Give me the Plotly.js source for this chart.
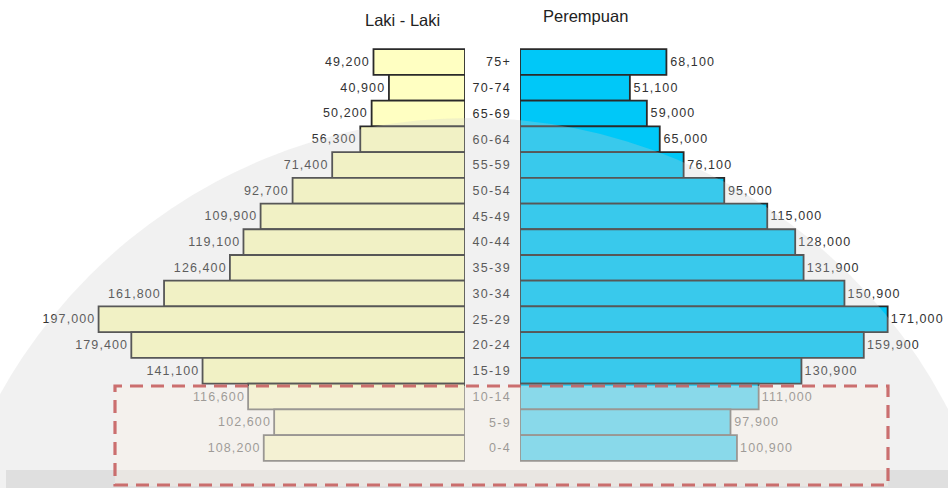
<!DOCTYPE html>
<html>
<head>
<meta charset="utf-8">
<script src="https://cdn.plot.ly/plotly-3.0.1.min.js"></script>
<style>
  html, body { margin: 0; padding: 0; background: #fff; }
  #chart { width: 948px; height: 488px; }
  #chart text.bartext { letter-spacing: 1.1px; }
  #chart .ytick text { letter-spacing: 1.3px; }
</style>
</head>
<body>
<div id="chart"></div>
<script>
// Age groups, top to bottom as in the picture
const ageGroups = ["75+", "70-74", "65-69", "60-64", "55-59", "50-54", "45-49", "40-44",
                   "35-39", "30-34", "25-29", "20-24", "15-19", "10-14", "5-9", "0-4"];
// Laki - Laki (male)
const maleValues = [49200, 40900, 50200, 56300, 71400, 92700, 109900, 119100,
                    126400, 161800, 197000, 179400, 141100, 116600, 102600, 108200];
// Perempuan (female)
const femaleValues = [68100, 51100, 59000, 65000, 76100, 95000, 115000, 128000,
                      131900, 150900, 171000, 159900, 130900, 111000, 97900, 100900];
const maleTitle = "Laki - Laki";
const femaleTitle = "Perempuan";

const W = 948, H = 488;
const px = v => v / W;           // paper x from pixel
const py = v => 1 - v / H;       // paper y from pixel

const valueFont = { family: "Liberation Sans, Arial, sans-serif", size: 12.5, color: "#333333" };

const male = {
  type: "bar", orientation: "h",
  x: maleValues, y: ageGroups,
  xaxis: "x", yaxis: "y",
  width: 1,
  marker: { color: "#FFFFC2", line: { color: "#2a2a2a", width: 1.8 } },
  texttemplate: "%{x:,}\u00a0", textposition: "outside", cliponaxis: false,
  textfont: valueFont, outsidetextfont: valueFont,
  hoverinfo: "skip", showlegend: false
};
const female = {
  type: "bar", orientation: "h",
  x: femaleValues, y: ageGroups,
  xaxis: "x2", yaxis: "y",
  width: 1,
  marker: { color: "#00C8F8", line: { color: "#2a2a2a", width: 1.8 } },
  texttemplate: "\u00a0%{x:,}", textposition: "outside", cliponaxis: false,
  textfont: valueFont, outsidetextfont: valueFont,
  hoverinfo: "skip", showlegend: false
};

const layout = {
  width: W, height: H,
  margin: { l: 0, r: 0, t: 0, b: 0, pad: 0 },
  paper_bgcolor: "#ffffff", plot_bgcolor: "rgba(0,0,0,0)",
  bargap: 0,
  font: { family: "Liberation Sans, Arial, sans-serif", color: "#333" },
  xaxis: {
    domain: [0, px(465)], range: [465 / 1.86 * 1000, 0],
    visible: false, fixedrange: true
  },
  xaxis2: {
    domain: [px(520), 1], range: [0, 428 / 2.15 * 1000],
    anchor: "y", visible: false, fixedrange: true
  },
  yaxis: {
    type: "category", categoryorder: "array",
    categoryarray: ageGroups.slice().reverse(),
    range: [-1.556, 17.41],
    anchor: "x2", side: "left",
    showgrid: false, zeroline: false, showline: false, ticks: "",
    ticklabelstandoff: 8,
    tickfont: { family: "Liberation Sans, Arial, sans-serif", size: 12.5, color: "#2e2e2e" },
    fixedrange: true
  },
  annotations: [
    { text: maleTitle, xref: "paper", yref: "paper", x: px(402), y: py(20),
      showarrow: false, xanchor: "center", yanchor: "middle",
      font: { family: "Liberation Sans, Arial, sans-serif", size: 16.5, color: "#222" } },
    { text: femaleTitle, xref: "paper", yref: "paper", x: px(585), y: py(16),
      showarrow: false, xanchor: "center", yanchor: "middle",
      font: { family: "Liberation Sans, Arial, sans-serif", size: 16.5, color: "#222" } }
  ],
  shapes: [
    // faint watermark disc
    { type: "circle", xref: "paper", yref: "paper", layer: "above",
      x0: px(470 - 538), x1: px(470 + 538), y0: py(656 + 538), y1: py(118),
      fillcolor: "rgba(205,205,205,0.28)", line: { width: 0 } },
    // bottom grey band of the watermark
    { type: "rect", xref: "paper", yref: "paper", layer: "above",
      x0: px(6), x1: 1, y0: 0, y1: py(470),
      fillcolor: "rgba(170,170,170,0.25)", line: { width: 0 } },
    // highlighted box: veil + dashed frame
    { type: "rect", xref: "paper", yref: "paper", layer: "above",
      x0: px(115), x1: px(888), y0: py(486), y1: py(386),
      fillcolor: "rgba(248,240,232,0.42)", line: { width: 0 } },
    { type: "rect", xref: "paper", yref: "paper", layer: "above",
      x0: px(115), x1: px(888), y0: py(485), y1: py(386),
      fillcolor: "rgba(0,0,0,0)",
      line: { color: "rgba(198,96,96,0.9)", width: 3.2, dash: "13px,8px" } }
  ]
};

Plotly.newPlot("chart", [male, female], layout, { displayModeBar: false, staticPlot: true });
</script>
</body>
</html>
